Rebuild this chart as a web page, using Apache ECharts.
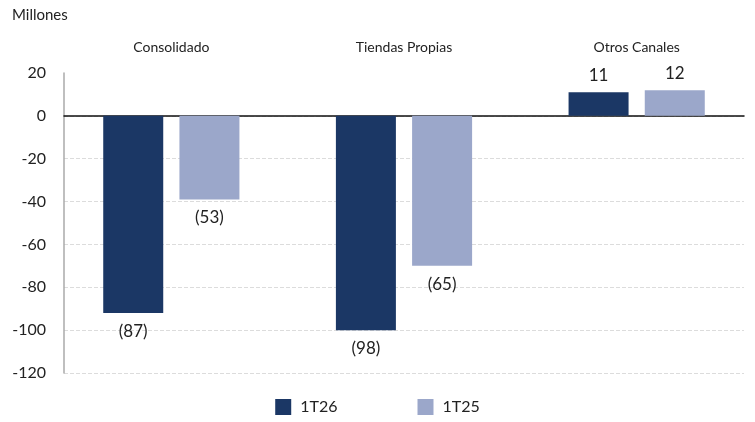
<!DOCTYPE html>
<html><head><meta charset="utf-8">
<script src="https://cdn.jsdelivr.net/npm/echarts@6/dist/echarts.min.js"></script>
<style>html,body{margin:0;padding:0;background:#fff}#c{width:755px;height:422px}</style>
</head><body><div id="c"></div>
<script>
const categories = ['Consolidado', 'Tiendas Propias', 'Otros Canales'];
const seriesNames = ['1T26', '1T25'];
// bar heights as drawn in the picture
const bars1T26 = [-92, -100, 11];
const bars1T25 = [-39, -70, 12];
// value labels as printed
const labels1T26 = [-87, -98, 11];
const labels1T25 = [-53, -65, 12];
const yTicks = [20, 0, -20, -40, -60, -80, -100, -120];

const fmt = v => v < 0 ? '(' + Math.abs(v) + ')' : String(v);
const font = 'Lato, "Open Sans", sans-serif';
const colors = ['#1b3765', '#9ba7ca'];

function mkLabel(arr, vals){
  return arr.map((v,i)=>({
    value: v,
    label: {position: v < 0 ? 'bottom' : 'top', distance: v < 0 ? 10 : 8,
            formatter: fmt(vals[i])}
  }));
}

const chart = echarts.init(document.getElementById('c'), null, {renderer:'canvas'});
chart.setOption({
  animation: false,
  textStyle: {fontFamily: font},
  graphic: [{type:'text', left: 12, top: 8, style:{text:'Millones', fontSize:15, fill:'#222', fontFamily:font}}],
  legend: {
    bottom: 2, left: 'center', itemWidth: 16, itemHeight: 16, itemGap: 80,
    icon: 'rect', data: seriesNames,
    textStyle: {fontSize: 16, color: '#222', fontFamily: font, padding:[0,0,0,4]}
  },
  grid: [
    {left: 64, right: 11, top: 73, bottom: 49},
    {left: 55, right: 2, top: 73, bottom: 49}
  ],
  xAxis: [
    {gridIndex: 0, type: 'category', data: categories, position: 'bottom',
     axisLine: {onZero: true, lineStyle: {color: '#111', width: 1.5}},
     axisTick: {show: false}, axisLabel: {show: false}},
    {gridIndex: 1, type: 'category', data: categories, position: 'top',
     axisLine: {show: false}, axisTick: {show: false},
     axisLabel: {margin: 19, fontSize: 14, color: '#222', fontFamily: font}}
  ],
  yAxis: [
    {gridIndex: 0, type: 'value', min: -120, max: 20, interval: 20,
     axisLine: {show: true, lineStyle: {color: '#aaa', width: 1.5}},
     axisTick: {show: false},
     axisLabel: {margin: 18, fontSize: 16, color: '#222', fontFamily: font,
       formatter: v => yTicks.includes(v) ? String(v) : ''},
     splitLine: {show: true, showMaxLine: false, lineStyle: {color: '#dcdcdc', type: 'dashed'}}},
    {gridIndex: 1, type: 'value', min: -120, max: 20, interval: 20,
     axisLine: {show: false}, axisTick: {show: false}, axisLabel: {show: false},
     splitLine: {show: false}}
  ],
  series: [
    {name: seriesNames[0], type: 'bar', xAxisIndex: 1, yAxisIndex: 1,
     data: mkLabel(bars1T26, labels1T26), barWidth: 60, barGap: '27%',
     itemStyle: {color: colors[0]},
     label: {show: true, fontSize: 17, color: '#222', fontFamily: font}},
    {name: seriesNames[1], type: 'bar', xAxisIndex: 1, yAxisIndex: 1,
     data: mkLabel(bars1T25, labels1T25), barWidth: 60,
     itemStyle: {color: colors[1]},
     label: {show: true, fontSize: 17, color: '#222', fontFamily: font}}
  ]
});
</script></body></html>
